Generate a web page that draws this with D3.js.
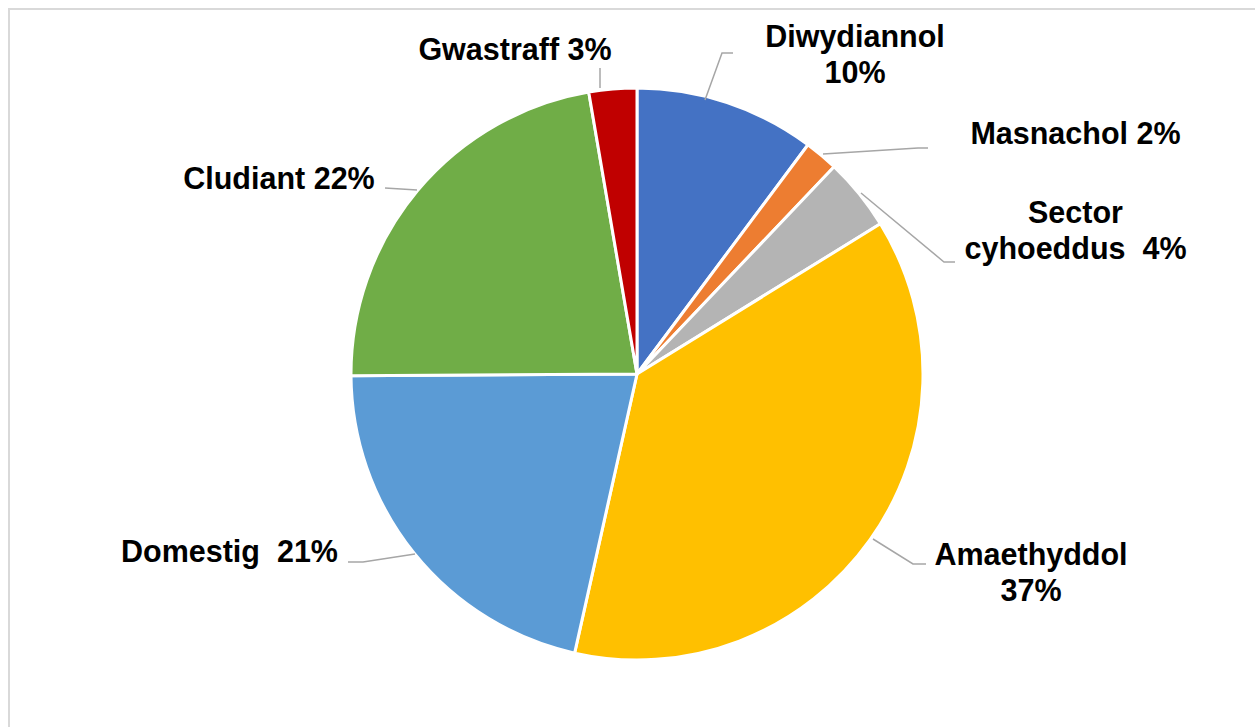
<!DOCTYPE html>
<html>
<head>
<meta charset="utf-8">
<script src="https://cdn.jsdelivr.net/npm/d3@7"></script>
<style>
  html, body { margin: 0; padding: 0; background: #ffffff; }
  svg { display: block; }
  text { font-family: "Liberation Sans", Arial, sans-serif; font-weight: bold; fill: #000; }
</style>
</head>
<body>
<svg id="chart" width="1255" height="727"></svg>
<script>
// ---- data ----
const categories = ["Diwydiannol", "Masnachol", "Sector cyhoeddus", "Amaethyddol", "Domestig", "Cludiant", "Gwastraff"];
const values = [10.2, 1.9, 4.1, 37.3, 21.4, 22.4, 2.7];
const labelLines = [
  ["Diwydiannol", "10%"],
  ["Masnachol 2%"],
  ["Sector", "cyhoeddus  4%"],
  ["Amaethyddol", "37%"],
  ["Domestig  21%"],
  ["Cludiant 22%"],
  ["Gwastraff 3%"]
];
const colors = ["#4472C4", "#ED7D31", "#B4B4B4", "#FFC000", "#5B9BD5", "#70AD47", "#C00000"];

// ---- layout (positions only) ----
const W = 1255, H = 727;
const cx = 637, cy = 374, R = 286;
const labelPos = [
  { x: 855, y: 47 },
  { x: 1075.5, y: 144 },
  { x: 1075.5, y: 223 },
  { x: 1031, y: 565 },
  { x: 229.5, y: 562 },
  { x: 279, y: 189 },
  { x: 515, y: 60 }
];
const leaders = [
  [[705, 100], [722, 53], [733, 53]],
  [[823, 154], [918, 148], [928, 148]],
  [[861, 193], [944, 262], [955, 262]],
  [[873, 539], [913, 564], [926, 564]],
  [[415, 554], [363, 562], [348, 562]],
  [[417, 190], [385, 188]],
  [[600, 88], [600, 68]]
];
const lineH = 36;

const svg = d3.select("#chart");

// chart border
svg.append("path")
  .attr("d", `M9,${H + 5} L9,9 L${W + 5},9`)
  .attr("fill", "none")
  .attr("stroke", "#d9d9d9")
  .attr("stroke-width", 2);

const pie = d3.pie().sort(null).value(d => d)
  .startAngle(0).endAngle(2 * Math.PI);
const arcs = pie(values);
const arc = d3.arc().innerRadius(0).outerRadius(R);

const g = svg.append("g").attr("transform", `translate(${cx},${cy})`);
g.selectAll("path.slice")
  .data(arcs)
  .join("path")
  .attr("class", "slice")
  .attr("d", arc)
  .attr("fill", (d, i) => colors[i])
  .attr("stroke", "#ffffff")
  .attr("stroke-width", 3)
  .attr("stroke-linejoin", "round");

// leader lines
const line = d3.line();
svg.selectAll("path.leader")
  .data(leaders)
  .join("path")
  .attr("class", "leader")
  .attr("d", d => line(d))
  .attr("fill", "none")
  .attr("stroke", "#a6a6a6")
  .attr("stroke-width", 1.5);

// labels
const labels = svg.selectAll("text.lbl")
  .data(categories)
  .join("text")
  .attr("class", "lbl")
  .attr("x", (d, i) => labelPos[i].x)
  .attr("y", (d, i) => labelPos[i].y)
  .attr("text-anchor", "middle")
  .style("font-size", "30.5px")
  .style("white-space", "pre")
  .attr("xml:space", "preserve");

labels.each(function(d, i) {
  const t = d3.select(this);
  labelLines[i].forEach((ln, k) => {
    t.append("tspan")
      .attr("x", labelPos[i].x)
      .attr("dy", k === 0 ? 0 : lineH)
      .text(ln);
  });
});
</script>
</body>
</html>
